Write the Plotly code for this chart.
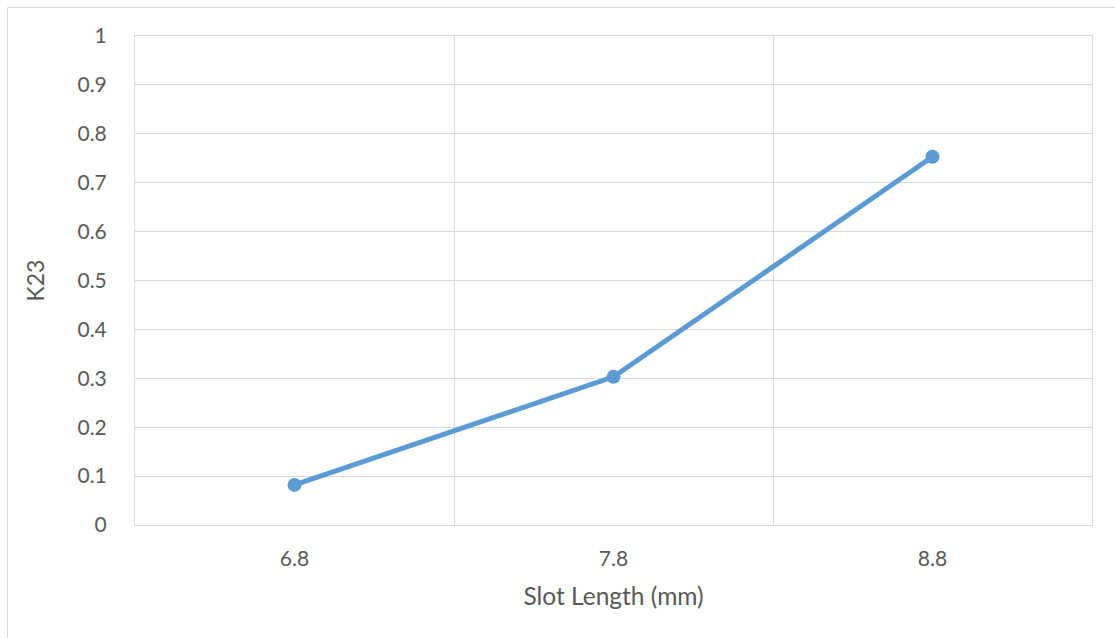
import plotly.graph_objects as go

categories = ["6.8", "7.8", "8.8"]
k23 = [0.082, 0.303, 0.753]
y_ticks = [0, 0.1, 0.2, 0.3, 0.4, 0.5, 0.6, 0.7, 0.8, 0.9, 1]

L, R, T, B = 135, 23, 36, 113
W, H = 1115, 638
pw, ph = W - L - R, H - T - B

grid = "#d9d9d9"
txt = "#595959"
font = "Lato, Open Sans, sans-serif"

fig = go.Figure()
fig.add_trace(go.Scatter(
    x=list(range(len(categories))), y=k23, mode="lines+markers",
    line=dict(color="#5b9bd5", width=5),
    marker=dict(color="#5b9bd5", size=14),
    showlegend=False, cliponaxis=False,
))

fig.update_layout(
    width=W, height=H,
    margin=dict(l=L, r=R, t=T, b=B, pad=0),
    paper_bgcolor="white", plot_bgcolor="white",
    font=dict(family=font, color=txt, size=21),
    xaxis=dict(
        range=[-0.5, len(categories) - 0.5],
        tickvals=list(range(len(categories))), ticktext=categories,
        tickfont=dict(size=21, color=txt),
        showgrid=False, zeroline=False,
        showline=True, linecolor=grid, linewidth=1, mirror=True,
        ticks="", ticklabelstandoff=15,
        minor=dict(tickvals=[i + 0.5 for i in range(-1, len(categories))],
                   showgrid=True, gridcolor=grid, gridwidth=1.3, ticks=""),
        title=dict(text="Slot Length (mm)", font=dict(size=24.5, color=txt), standoff=18),
        fixedrange=True,
    ),
    yaxis=dict(
        range=[0, 1], tickvals=y_ticks, ticktext=[f"{v:g}" for v in y_ticks],
        tickfont=dict(size=21, color=txt),
        showgrid=True, gridcolor=grid, gridwidth=1.3, zeroline=False,
        showline=True, linecolor=grid, linewidth=1, mirror=True,
        ticks="", ticklabelstandoff=23,
        title=dict(text="K23", font=dict(size=23, color=txt), standoff=26),
        fixedrange=True,
    ),
    shapes=[dict(
        type="rect", xref="paper", yref="paper",
        x0=(7.5 - L) / pw, x1=(W + 5 - L) / pw,
        y0=1 - (H + 5 - T) / ph, y1=1 + (T - 7.5) / ph,
        line=dict(color=grid, width=1), fillcolor="rgba(0,0,0,0)", layer="below",
    )],
)

fig.write_html("out.html")
